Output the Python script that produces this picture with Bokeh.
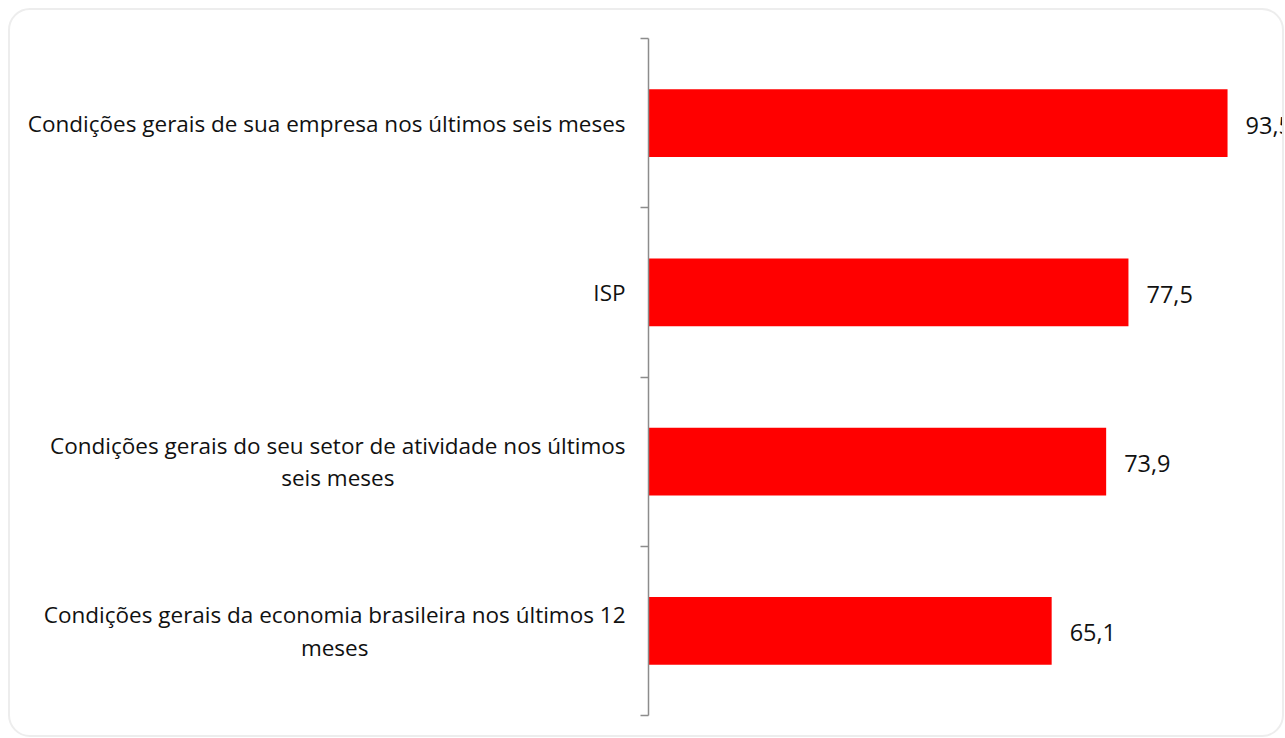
from bokeh.plotting import figure
from bokeh.models import Range1d, FixedTicker, ColumnDataSource
from bokeh.core.properties import value
from bokeh.embed import file_html
from bokeh.resources import INLINE

# ---- data (top to bottom) ----
categories = [
    "Condições gerais de sua empresa nos últimos seis meses",
    "ISP",
    "Condições gerais do seu setor de atividade nos últimos\nseis meses",
    "Condições gerais da economia brasileira nos últimos 12\nmeses",
]
values = [93.5, 77.5, 73.9, 65.1]
value_labels = [f"{v:.1f}".replace(".", ",") for v in values]

# ---- layout ----
W, H = 1276, 729
AXIS_X = 638          # canvas px of the category axis
PX_PER_UNIT = 6.193   # horizontal scale
TOP, BOTTOM = 28, 705 # canvas px of the axis extent
n = len(categories)
py = (BOTTOM - TOP) / n

x_range = Range1d(-AXIS_X / PX_PER_UNIT, (W - AXIS_X) / PX_PER_UNIT)
y_range = Range1d(n + (H - BOTTOM) / py, -TOP / py)

p = figure(width=W, height=H, x_range=x_range, y_range=y_range,
           output_backend="svg", toolbar_location=None,
           x_axis_location=None, min_border=0, margin=(8, 0, 0, 8))
p.styles = {"border": "2px solid #ededed", "border-radius": "22px"}
p.outline_line_color = None
p.grid.visible = False
p.background_fill_color = None
p.border_fill_color = None

yaxis = p.yaxis[0]
yaxis.fixed_location = 0
yaxis.bounds = (0, n)
yaxis.ticker = FixedTicker(ticks=list(range(n + 1)))
yaxis.major_label_overrides = {i: "" for i in range(n + 1)}
yaxis.major_label_standoff = 0
yaxis.major_tick_in = 0
yaxis.major_tick_out = 8
yaxis.minor_tick_line_color = None
yaxis.axis_line_color = "#8c8c8c"
yaxis.axis_line_width = 1.5
yaxis.major_tick_line_color = "#8c8c8c"
yaxis.major_tick_line_width = 1.5

centers = [i + 0.5 for i in range(n)]
src = ColumnDataSource(dict(y=centers, v=values, cat=categories, lab=value_labels,
                            zero=[0] * n))

p.hbar(y="y", left="zero", right="v", height=0.4, source=src,
       fill_color="#FF0000", line_color=None)

p.text(x="zero", y="y", text="cat", source=src, x_offset=-23,
       anchor="center_right", text_align="center", text_baseline="middle",
       text_font=value("Open Sans"), text_font_size="22.5px",
       text_line_height=1.05, text_color="#111111")

p.text(x="v", y="y", text="lab", source=src, x_offset=18, y_offset=2,
       text_align="left", text_baseline="middle",
       text_font=value("Open Sans"), text_font_size="23.5px",
       text_color="#111111")

open("out.html", "w").write(file_html(p, INLINE))
